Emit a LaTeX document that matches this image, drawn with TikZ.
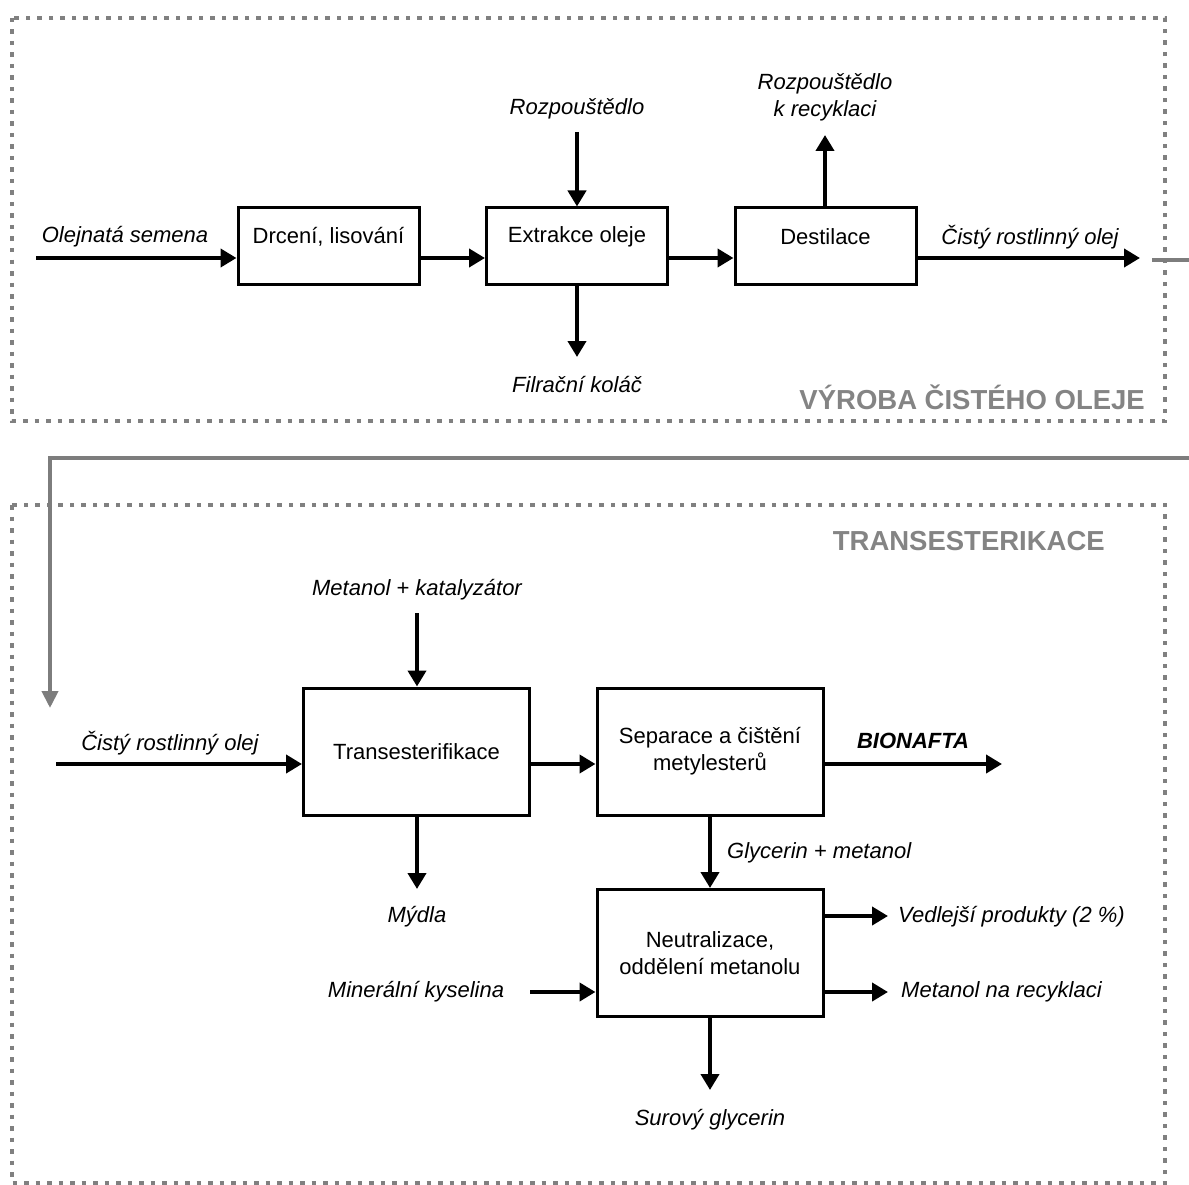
\documentclass[tikz,border=0pt]{standalone}
\usepackage{fontspec}
\setmainfont{Liberation Sans}
\usetikzlibrary{arrows.meta}
\definecolor{framegray}{RGB}{128,128,128}
\definecolor{titlegray}{RGB}{132,132,132}
\definecolor{loopgray}{RGB}{125,125,125}
\begin{document}
\begin{tikzpicture}[x=1pt,y=-1pt,
  every node/.style={font=\fontsize{22}{25}\selectfont},
  procbox/.style={draw=black, line width=3pt, rectangle, inner sep=0pt, align=center},
  topbox/.style={procbox, minimum width=181pt, minimum height=76pt},
  botbox/.style={procbox, minimum width=226pt, minimum height=127pt},
  flow/.style={line width=4.8pt, -{Triangle[length=16pt,width=18pt]}},
  loopline/.style={draw=loopgray, line width=4pt, -{Triangle[length=17pt,width=16pt]}},
  frame/.style={draw=framegray, line width=4.5pt, dash pattern=on 4.5pt off 7pt},
  lbl/.style={font=\fontsize{22}{25}\selectfont\itshape, inner sep=0pt, align=center},
  title/.style={font=\fontsize{27.5}{30}\selectfont\bfseries, text=titlegray, inner sep=0pt}
]
\useasboundingbox (0,0) rectangle (1189,1185);
\clip (0,0) rectangle (1189,1185);

% frames
\draw[frame] (12,18) rectangle (1165,421);
\draw[frame] (12,505) rectangle (1165,1183);
\node[title, anchor=east] (t1) at (1145,397) {VÝROBA ČISTÉHO OLEJE};
\node[title, anchor=east] (t2) at (1105,541) {TRANSESTERIKACE};

% ---------- top process ----------
\node[topbox, label={[yshift=9pt]center:Drcení, lisování}] (b1) at (328.5,246) {};
\node[topbox, label={[yshift=9pt]center:Extrakce oleje}] (b2) at (577,246) {};
\node[topbox, label={[yshift=9pt]center:Destilace}] (b3) at (825.5,246) {};

\coordinate (in1) at (36,258);
\coordinate (out1) at (1140,258);
\coordinate (solvin) at (577,132);
\coordinate (cake) at (577,357);
\coordinate (solvout) at (825,135);

\node[lbl] (l1) at (125,237) {Olejnatá semena};
\node[lbl] (l2) at (577,109) {Rozpouštědlo};
\node[lbl] (l3) at (577,385) {Filrační koláč};
\node[lbl] (l4) at (825,97.5) {Rozpouštědlo\\[2pt]k recyklaci};
\node[lbl] (l5) at (1030,237) {Čistý rostlinný olej};

\draw[flow] (in1) -- (in1 -| b1.west);
\draw[flow] (b1.east |- in1) -- (b2.west |- in1);
\draw[flow] (b2.east |- in1) -- (b3.west |- in1);
\draw[flow] (b3.east |- in1) -- (out1);
\draw[flow] (solvin) -- (b2.north);
\draw[flow] (b2.south) -- (cake);
\draw[flow] (b3.north -| solvout) -- (solvout);

% ---------- loop connector ----------
\coordinate (g0) at (1152,260);
\coordinate (g1) at (1200,260);
\coordinate (g2) at (1200,458);
\coordinate (g3) at (50,458);
\coordinate (g4) at (50,708);
\draw[loopline] (g0) -- (g1) -- (g2) -- (g3) -- (g4);

% ---------- bottom process ----------
\node[botbox] (b4) at (416.5,751.5) {Transesterifikace};
\node[botbox] (b5) at (710,751.5) {Separace a čištění\\[2pt]metylesterů};
\node[botbox] (b6) at (710,953) {Neutralizace,\\[2pt]oddělení metanolu};

\coordinate (in2) at (56,764);
\coordinate (bio) at (1002,764);
\coordinate (metin) at (417,613);
\coordinate (soap) at (417,889);
\coordinate (acid) at (530,992);
\coordinate (byp) at (888,916);
\coordinate (metout) at (888,992);
\coordinate (glyc) at (710,1090);

\node[lbl] (l6) at (170,743) {Čistý rostlinný olej};
\node[lbl] (l7) at (417,590) {Metanol + katalyzátor};
\node[lbl, font=\fontsize{22}{25}\selectfont\bfseries\itshape] (l8) at (913,741) {BIONAFTA};
\node[lbl] (l9) at (417,917) {Mýdla};
\node[lbl, anchor=west] (l10) at (727,853) {Glycerin + metanol};
\node[lbl] (l11) at (416,992) {Minerální kyselina};
\node[lbl, anchor=west] (l12) at (898,917) {Vedlejší produkty (2 \%)};
\node[lbl, anchor=west] (l13) at (901,992) {Metanol na recyklaci};
\node[lbl] (l14) at (710,1120) {Surový glycerin};

\draw[flow] (in2) -- (in2 -| b4.west);
\draw[flow] (metin) -- (metin |- b4.north);
\draw[flow] (b4.east |- in2) -- (b5.west |- in2);
\draw[flow] (b5.east |- in2) -- (bio);
\draw[flow] (soap |- b4.south) -- (soap);
\draw[flow] (b5.south) -- (b6.north);
\draw[flow] (acid) -- (acid -| b6.west);
\draw[flow] (b6.east |- byp) -- (byp);
\draw[flow] (b6.east |- metout) -- (metout);
\draw[flow] (b6.south) -- (glyc);
\end{tikzpicture}
\end{document}
